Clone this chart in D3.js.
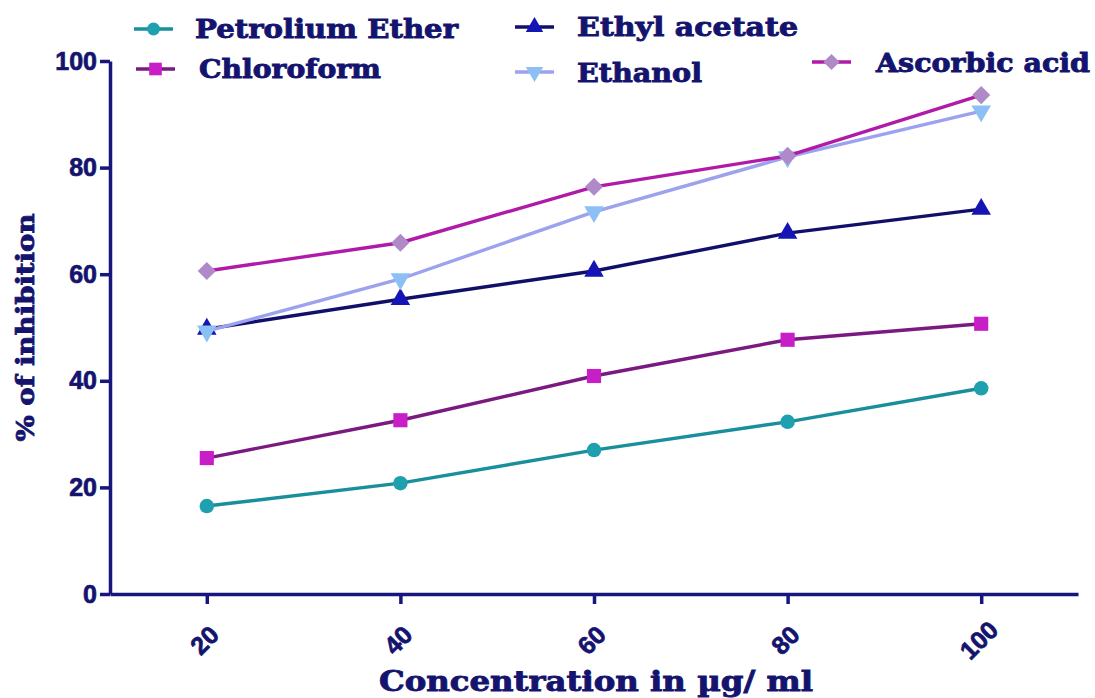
<!DOCTYPE html>
<html>
<head>
<meta charset="utf-8">
<script src="https://cdn.jsdelivr.net/npm/d3@7"></script>
<style>
  html, body { margin: 0; padding: 0; background: #fff; }
  svg { display: block; }
</style>
</head>
<body>
<svg id="chart" width="1095" height="698"></svg>
<script>
// Concentrations (µg/ml) and % inhibition for each extract
const concentrations = [20, 40, 60, 80, 100];
const petroliumEther = [16.5, 20.8, 27.0, 32.3, 38.6];
const chloroform     = [25.5, 32.6, 40.9, 47.7, 50.7];
const ethylAcetate   = [49.7, 55.3, 60.6, 67.7, 72.2];
const ethanol        = [49.3, 59.1, 71.7, 82.0, 90.6];
const ascorbicAcid   = [60.6, 65.9, 76.4, 82.2, 93.6];

const yTicks = [0, 20, 40, 60, 80, 100];
const xTickLabels = ["20", "40", "60", "80", "100"];

const seriesNames = ["Petrolium Ether", "Chloroform", "Ethyl acetate", "Ethanol", "Ascorbic acid"];
const seriesValues = [petroliumEther, chloroform, ethylAcetate, ethanol, ascorbicAcid];

// Styling per series
const styles = [
  { line: "#1a8f9c", fill: "#1ea0ae", symbol: d3.symbolCircle,   size: 165, rot: 0 },
  { line: "#7a1a80", fill: "#c81ec8", symbol: d3.symbolSquare,   size: 200, rot: 0 },
  { line: "#10106a", fill: "#1515b5", symbol: d3.symbolTriangle, size: 165, rot: 0 },
  { line: "#9ca2ee", fill: "#8cc0f4", symbol: d3.symbolTriangle, size: 165, rot: 180 },
  { line: "#b01aa8", fill: "#b08ac8", symbol: d3.symbolSquare,   size: 165, rot: 45 }
];

// Legend placement
const legendPos = [
  { lx: 134, ly: 29, tx: 195, ty: 38, w: 263 },
  { lx: 136, ly: 69, tx: 199, ty: 78, w: 182 },
  { lx: 515, ly: 27, tx: 577, ty: 36, w: 221 },
  { lx: 515, ly: 72, tx: 577, ty: 82, w: 125 },
  { lx: 812, ly: 62, tx: 876, ty: 72, w: 214 }
];

const navy = "#14146e";
const axisColor = "#16167c";

const svg = d3.select("#chart");

const x = d3.scaleLinear().domain([10, 110]).range([110, 1078]);
const y = d3.scaleLinear().domain([0, 100]).range([594, 61]);

// Y axis
const yAxis = svg.append("g")
  .attr("transform", `translate(${x(10)},0)`)
  .call(d3.axisLeft(y).tickValues(yTicks).tickSize(10).tickSizeOuter(0).tickFormat(d3.format("d")));
yAxis.select(".domain").attr("stroke", axisColor).attr("stroke-width", 3.5);
yAxis.selectAll(".tick line").attr("stroke", axisColor).attr("stroke-width", 3.5);
yAxis.selectAll(".tick text")
  .attr("fill", navy)
  .attr("stroke", navy)
  .attr("stroke-width", 0.7)
  .attr("font-family", "Liberation Sans, Arial, sans-serif")
  .attr("font-weight", "bold")
  .attr("font-size", 25)
  .attr("x", -13);

// X axis
const xAxis = svg.append("g")
  .attr("transform", `translate(0,${y(0)})`)
  .call(d3.axisBottom(x).tickValues(concentrations).tickSize(10).tickSizeOuter(0).tickFormat((d, i) => xTickLabels[i]));
xAxis.select(".domain").attr("stroke", axisColor).attr("stroke-width", 3.5);
xAxis.selectAll(".tick line").attr("stroke", axisColor).attr("stroke-width", 3.5);
xAxis.selectAll(".tick text")
  .attr("fill", navy)
  .attr("stroke", navy)
  .attr("stroke-width", 0.7)
  .attr("font-family", "Liberation Sans, Arial, sans-serif")
  .attr("font-weight", "bold")
  .attr("font-size", 25)
  .attr("text-anchor", "middle")
  .attr("dominant-baseline", "central")
  .attr("y", 0)
  .attr("dy", null)
  .attr("transform", "translate(-3,46) rotate(-45)");

// Axis titles
svg.append("text")
  .attr("transform", `translate(34,${(y(0) + y(100)) / 2}) rotate(-90)`)
  .attr("text-anchor", "middle")
  .attr("fill", navy)
  .attr("stroke", navy)
  .attr("stroke-width", 0.8)
  .attr("font-family", "DejaVu Serif, serif")
  .attr("font-weight", "bold")
  .attr("font-size", 24)
  .attr("textLength", 228)
  .attr("lengthAdjust", "spacingAndGlyphs")
  .text("% of inhibition");

svg.append("text")
  .attr("x", 596)
  .attr("y", 691)
  .attr("text-anchor", "middle")
  .attr("fill", navy)
  .attr("stroke", navy)
  .attr("stroke-width", 0.8)
  .attr("font-family", "DejaVu Serif Condensed, DejaVu Serif, serif")
  .attr("font-weight", "bold")
  .attr("font-size", 27)
  .attr("textLength", 434)
  .attr("lengthAdjust", "spacingAndGlyphs")
  .text("Concentration in µg/ ml");

// Lines and markers
const line = d3.line().x((d, i) => x(concentrations[i])).y(d => y(d));

seriesValues.forEach((vals, s) => {
  const st = styles[s];
  const g = svg.append("g");
  g.append("path")
    .datum(vals)
    .attr("d", line)
    .attr("fill", "none")
    .attr("stroke", st.line)
    .attr("stroke-width", 3.4);
  g.selectAll("path.marker")
    .data(vals)
    .join("path")
    .attr("class", "marker")
    .attr("d", d3.symbol().type(st.symbol).size(st.size))
    .attr("fill", st.fill)
    .attr("transform", (d, i) => `translate(${x(concentrations[i])},${y(d)}) rotate(${st.rot})`);
});

// Legend
const legend = svg.append("g");
seriesNames.forEach((name, s) => {
  const st = styles[s];
  const p = legendPos[s];
  legend.append("line")
    .attr("x1", p.lx).attr("x2", p.lx + 39)
    .attr("y1", p.ly).attr("y2", p.ly)
    .attr("stroke", st.line)
    .attr("stroke-width", 3.4);
  legend.append("path")
    .attr("d", d3.symbol().type(st.symbol).size(st.size * 0.8))
    .attr("fill", st.fill)
    .attr("transform", `translate(${p.lx + 19.5},${p.ly}) rotate(${st.rot})`);
  legend.append("text")
    .attr("x", p.tx)
    .attr("y", p.ty)
    .attr("fill", navy)
    .attr("stroke", navy)
    .attr("stroke-width", 0.9)
    .attr("font-family", "DejaVu Serif, serif")
    .attr("font-weight", "bold")
    .attr("font-size", 26)
    .attr("textLength", p.w)
    .attr("lengthAdjust", "spacingAndGlyphs")
    .text(name);
});
</script>
</body>
</html>
